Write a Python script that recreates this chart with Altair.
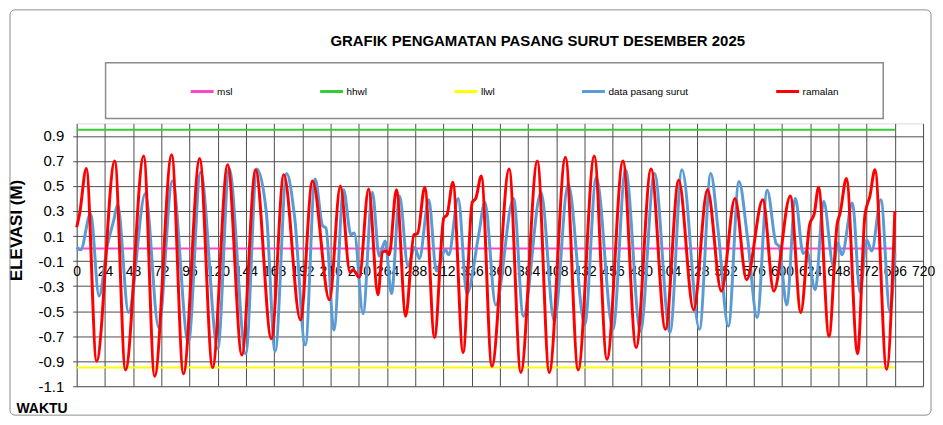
import altair as alt
import pandas as pd

TITLE = "GRAFIK PENGAMATAN PASANG SURUT DESEMBER 2025"
SERIES = ["msl", "hhwl", "llwl", "data pasang surut", "ramalan"]
COLORS = ["#FF44CC", "#33CC33", "#FFFF00", "#5B9BD5", "#FF0000"]

MSL = 0.0
HHWL = 0.95
LLWL = -0.95
REF_T = [0, 696]

# ramalan (prediction): hour, elevation (m)
PRED_T = [0, 2.5, 8.2, 16.9, 32.4, 41.5, 57.0, 66.3, 80.8, 90.8, 104.6, 115.6,
          128.4, 140.5, 152.2, 165.6, 176.2, 190.3, 200.6, 215.0, 224.3, 232.5,
          235.0, 240.4, 248.3, 256.3, 260.1, 263.5, 265.8, 272.0, 279.9, 286.9,
          290.0, 296.1, 304.4, 312.3, 315.1, 320.0, 328.7, 336.5, 339.5, 344.2,
          353.2, 367.9, 377.8, 391.9, 402.0, 415.8, 426.6, 440.3, 451.1, 464.7,
          475.9, 488.6, 500.8, 512.1, 524.8, 536.6, 548.4, 560.0, 569.9, 583.7,
          593.0, 607.1, 616.0, 623.5, 627.5, 631.1, 640.0, 647.0, 649.4, 654.8,
          664.3, 670.6, 674.8, 679.1, 689.0, 696.0]
PRED_V = [0.17, 0.28, 0.64, -0.90, 0.70, -0.97, 0.74, -1.02, 0.75, -1.00, 0.72, -0.95,
          0.67, -0.85, 0.63, -0.72, 0.59, -0.57, 0.54, -0.41, 0.50, -0.19,
          -0.17, -0.23, 0.475, -0.37, -0.03, -0.02, -0.05, 0.47, -0.54, 0.11,
          0.12, 0.49, -0.71, 0.245, 0.27, 0.53, -0.83, 0.37, 0.40, 0.58,
          -0.94, 0.635, -0.99, 0.70, -0.99, 0.73, -0.97, 0.74, -0.885, 0.70,
          -0.79, 0.635, -0.645, 0.545, -0.49, 0.47, -0.34, 0.40, -0.25, 0.39,
          -0.34, 0.42, -0.51, 0.19, 0.28, 0.49, -0.70, 0.20, 0.28, 0.56,
          -0.84, 0.27, 0.42, 0.63, -0.965, 0.30]

OBS_T = [0, 3.4, 11.8, 19.0, 26.0, 31.6, 34.8, 44.1, 58.4, 69.7, 81.4, 95.0,
         105.4, 120.0, 129.7, 143.8, 153.3, 161.4, 168.8, 178.6, 185.4, 194.5,
         202.8, 209.3, 212.0, 218.8, 227.0, 233.3, 236.1, 243.6, 251.5, 257.3,
         262.4, 267.8, 274.6, 281.8, 287.5, 291.5, 299.5, 306.0, 313.7, 316.5,
         324.5, 332.0, 342.0, 347.2, 356.5, 371.6, 380.0, 395.0, 406.3, 418.1,
         432.2, 442.0, 456.2, 466.9, 479.6, 491.5, 504.7, 514.9, 529.8, 539.4,
         545.6, 554.4, 563.4, 570.5, 578.9, 587.4, 595.0, 597.5, 604.0, 611.4,
         618.0, 621.0, 628.3, 635.4, 643.8, 647.5, 651.0, 659.9, 666.4, 672.0,
         676.3, 684.1, 691.8, 696.0]
OBS_V = [0.01, -0.01, 0.28, -0.38, 0.02, 0.23, 0.35, -0.51, 0.44, -0.63, 0.54, -0.75,
         0.61, -0.80, 0.635, -0.84, 0.635, 0.28, -0.82, 0.60, 0.25, -0.77,
         0.555, 0.18, 0.165, -0.65, 0.47, 0.11, 0.125, -0.52, 0.45, -0.06,
         0.06, -0.36, 0.42, -0.14, 0.01, -0.08, 0.39, -0.18, -0.01, -0.05,
         0.40, -0.36, 0.11, 0.37, -0.45, 0.40, -0.54, 0.45, -0.58, 0.515,
         -0.605, 0.57, -0.645, 0.63, -0.66, 0.60, -0.67, 0.63, -0.645, 0.60,
         0.15, -0.62, 0.536, 0.10, -0.55, 0.465, 0.04, 0.02, -0.45, 0.40,
         -0.04, -0.02, -0.33, 0.377, -0.14, 0.045, -0.05, 0.364, -0.35, 0.07,
         -0.02, 0.39, -0.50, -0.04]

X_TICKS = list(range(0, 721, 24))
Y_TICKS = [0.9, 0.7, 0.5, 0.3, 0.1, -0.1, -0.3, -0.5, -0.7, -0.9, -1.1]

FONT = "Liberation Sans, Arial, sans-serif"
GRID = "#4d4d4d"

ref_rows = []
for name, val in [("msl", MSL), ("hhwl", HHWL), ("llwl", LLWL)]:
    for t in REF_T:
        ref_rows.append({"t": t, "v": val, "series": name})
ref_df = pd.DataFrame(ref_rows)
obs_df = pd.DataFrame({"t": OBS_T, "v": OBS_V, "series": "data pasang surut"})
pred_df = pd.DataFrame({"t": PRED_T, "v": PRED_V, "series": "ramalan"})

neg_fmt = "datum.value < 0 ? '-' + format(abs(datum.value), '.1f') : format(datum.value, '.1f')"

X = alt.X(
    "t:Q",
    scale=alt.Scale(domain=[0, 720], nice=False, zero=False),
    axis=alt.Axis(
        values=X_TICKS, offset=-138, grid=True, gridColor=GRID, gridWidth=1,
        domain=False, ticks=False, labelPadding=16, labelFont=FONT,
        labelFontSize=14, labelColor="#000000", labelOverlap=False,
        labelFlush=False, labelBound=False,
        title="WAKTU", titleFont=FONT, titleFontSize=14, titleFontWeight="bold",
        titleColor="#000000", titleX=-61, titleY=153, titleAlign="left",
        titleBaseline="top",
    ),
)
Y = alt.Y(
    "v:Q",
    scale=alt.Scale(domain=[-1.1, 1.0], nice=False, zero=False),
    axis=alt.Axis(
        values=Y_TICKS, labelExpr=neg_fmt, grid=True, gridColor=GRID, gridWidth=1,
        domain=False, ticks=True, tickSize=4, tickColor=GRID, labelPadding=9,
        labelFont=FONT, labelFontSize=15, labelColor="#000000",
        title="ELEVASI (M)", titleFont=FONT, titleFontSize=17,
        titleFontWeight="bold", titleColor="#000000", titleX=-51, titleY=107,
        titleAlign="center", titleBaseline="bottom",
    ),
)
COLOR = alt.Color(
    "series:N",
    scale=alt.Scale(domain=SERIES, range=COLORS),
    legend=alt.Legend(
        title=None, orient="none", legendX=113, legendY=-45, direction="horizontal",
        symbolType="stroke", symbolSize=529, symbolStrokeWidth=3,
        labelFont=FONT, labelFontSize=10, labelColor="#000000", labelOffset=2,
        columnPadding=81, padding=0,
    ),
)

one = pd.DataFrame({"k": [0]})
frame = alt.Chart(one).mark_rect(
    fill="white", fillOpacity=0, stroke="#8c8c8c", strokeWidth=1, cornerRadius=5
).encode(x=alt.value(-67), x2=alt.value(858), y=alt.value(-114), y2=alt.value(293))
legend_box = alt.Chart(one).mark_rect(
    fill="white", fillOpacity=0, stroke="#8c8c8c", strokeWidth=1.5
).encode(x=alt.value(29), x2=alt.value(810), y=alt.value(-61), y2=alt.value(-5))

ref_lines = alt.Chart(ref_df).mark_line(strokeWidth=2).encode(x=X, y=Y, color=COLOR)
obs_line = alt.Chart(obs_df).mark_line(strokeWidth=3, interpolate="monotone").encode(
    x=X, y=Y, color=COLOR)
pred_line = alt.Chart(pred_df).mark_line(strokeWidth=3, interpolate="monotone").encode(
    x=X, y=Y, color=COLOR)

chart = alt.layer(frame, legend_box, ref_lines, obs_line, pred_line).properties(
    width=850, height=264, padding=0,
    title=alt.TitleParams(TITLE, font=FONT, fontSize=15, fontWeight="bold",
                          color="#000000", anchor="middle", dx=38, offset=-40),
).configure_view(strokeWidth=0).configure(background="white")

chart.save("out.html", embed_options={"renderer": "svg", "actions": False})
